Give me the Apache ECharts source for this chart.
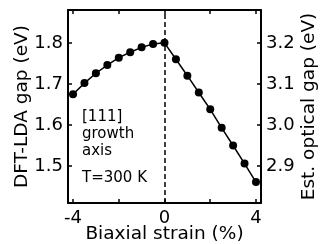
<!DOCTYPE html>
<html lang="en">
<head>
<meta charset="UTF-8">
<title>Biaxial strain</title>
<script src="https://cdn.jsdelivr.net/npm/echarts@6/dist/echarts.min.js"></script>
<style>
    html, body { margin: 0; padding: 0; background: #fff; }
    #main { width: 321px; height: 244px; }
</style>
</head>
<body>
<div id="main"></div>
<script>
    // strain (%) and DFT-LDA gap (eV)
    var strain = [-4, -3.5, -3, -2.5, -2, -1.5, -1, -0.5, 0, 0.5, 1, 1.5, 2, 2.5, 3, 3.5, 4];
    var gap = [1.675, 1.702, 1.726, 1.746, 1.764, 1.777, 1.789, 1.797, 1.800,
               1.760, 1.720, 1.679, 1.638, 1.593, 1.550, 1.506, 1.461];
    var xTicks = [-4, -2, 0, 2, 4];
    var xLabels = [-4, 0, 4];
    var leftTicks = [1.5, 1.6, 1.7, 1.8];
    var rightTicks = [2.9, 3.0, 3.1, 3.2];
    var notes = ['[111]', 'growth', 'axis', 'T=300 K'];

    var font = 'DejaVu Sans';
    var black = '#000';

    var points = strain.map(function (s, i) { return [s, gap[i]]; });

    function yAx(pos, min, max, vals, name, gapPx) {
        return {
            type: 'value', position: pos, min: min, max: max,
            name: name, nameLocation: 'middle', nameRotate: 90, nameGap: gapPx,
            nameMoveOverlap: false,
            nameTextStyle: { fontFamily: font, fontSize: 18.5, color: black },
            axisLine: { show: true, onZero: false, lineStyle: { color: black, width: 2 } },
            axisTick: { show: true, inside: true, length: 4, customValues: vals,
                        lineStyle: { color: black, width: 1.5 } },
            axisLabel: { customValues: vals, margin: 5, fontFamily: font, fontSize: 18, color: black,
                         formatter: function (v) { return v.toFixed(1); } },
            splitLine: { show: false }
        };
    }

    var chart = echarts.init(document.getElementById('main'));
    chart.setOption({
        animation: false,
        grid: { left: 68, right: 60, top: 10, bottom: 41, containLabel: false, outerBoundsMode: 'none' },
        xAxis: [{
            type: 'value', min: -4.22, max: 4.22, position: 'bottom',
            name: 'Biaxial strain (%)', nameLocation: 'middle', nameGap: 22,
            nameMoveOverlap: false,
            nameTextStyle: { fontFamily: font, fontSize: 18.5, color: black },
            axisLine: { show: true, onZero: false, lineStyle: { color: black, width: 2 } },
            axisTick: { show: true, inside: true, length: 4, customValues: xTicks,
                        lineStyle: { color: black, width: 1.5 } },
            axisLabel: { customValues: xLabels, margin: 6, fontFamily: font, fontSize: 18, color: black },
            splitLine: { show: false }
        }, {
            type: 'value', min: -4.22, max: 4.22, position: 'top',
            axisLine: { show: true, onZero: false, lineStyle: { color: black, width: 2 } },
            axisTick: { show: true, inside: true, length: 4, customValues: xTicks,
                        lineStyle: { color: black, width: 1.5 } },
            axisLabel: { show: false },
            splitLine: { show: false }
        }],
        yAxis: [
            yAx('left', 1.41, 1.88, leftTicks, 'DFT-LDA gap (eV)', 36),
            yAx('right', 2.81, 3.28, rightTicks, 'Est. optical gap (eV)', 39)
        ],
        series: [{
            type: 'line',
            data: points,
            xAxisIndex: 0, yAxisIndex: 0,
            symbol: 'circle', symbolSize: 8,
            itemStyle: { color: black },
            lineStyle: { color: black, width: 1.5 },
            markLine: {
                silent: true, symbol: ['none', 'none'], label: { show: false },
                lineStyle: { color: black, width: 1.5, type: [5, 3] },
                data: [{ xAxis: 0 }]
            }
        }],
        graphic: notes.map(function (t, i) {
            return {
                type: 'text', left: 82, top: (i < 3 ? 110 + i * 17 : 171),
                style: { text: t, fontFamily: font, fontSize: 15, fill: black }
            };
        })
    });
</script>
</body>
</html>
